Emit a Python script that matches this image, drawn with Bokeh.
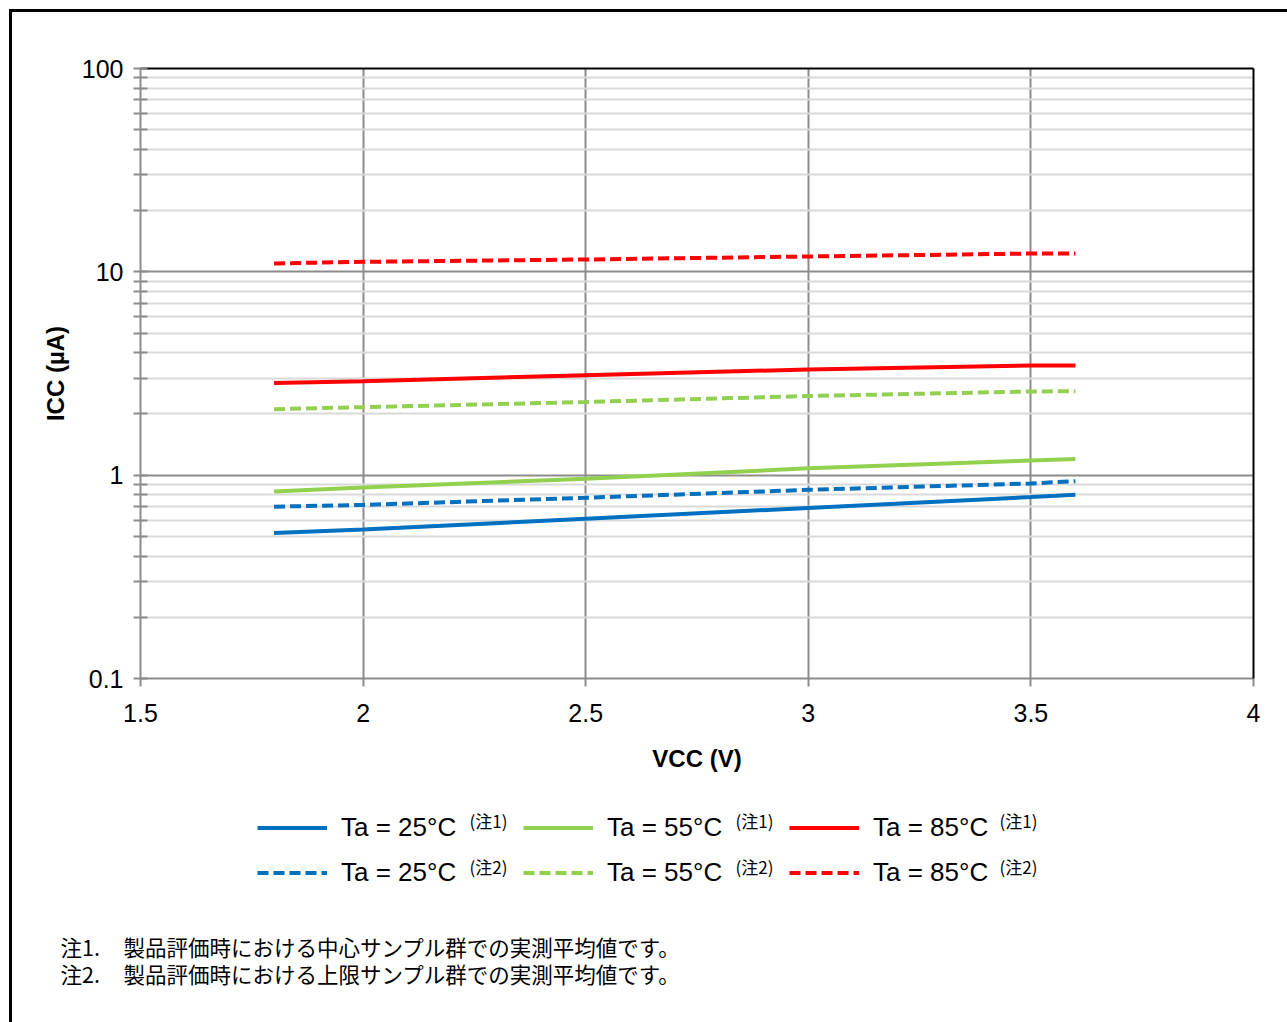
from bokeh.plotting import figure
from bokeh.layouts import column
from bokeh.models import (Range1d, FixedTicker, NumeralTickFormatter, LinearAxis, LogAxis,
                          Legend, LegendItem, Label)
from bokeh.embed import file_html
from bokeh.resources import INLINE

# ---- data ----
vcc = [1.8, 2.0, 2.5, 3.0, 3.5, 3.6]
icc_25_typ = [0.52, 0.54, 0.61, 0.69, 0.78, 0.80]
icc_55_typ = [0.83, 0.87, 0.96, 1.08, 1.18, 1.20]
icc_85_typ = [2.84, 2.90, 3.10, 3.31, 3.46, 3.46]
icc_25_max = [0.70, 0.714, 0.774, 0.847, 0.91, 0.934]
icc_55_max = [2.11, 2.16, 2.29, 2.45, 2.58, 2.59]
icc_85_max = [11.0, 11.2, 11.5, 11.9, 12.3, 12.3]

x_ticks = [1.5, 2.0, 2.5, 3.0, 3.5, 4.0]
y_ticks = [0.1, 1, 10, 100]
y_minor = [0.2, 0.3, 0.4, 0.5, 0.6, 0.7, 0.8, 0.9,
           2, 3, 4, 5, 6, 7, 8, 9,
           20, 30, 40, 50, 60, 70, 80, 90]

legend_labels = ["Ta = 25°C", "Ta = 55°C", "Ta = 85°C",
                 "Ta = 25°C", "Ta = 55°C", "Ta = 85°C"]
legend_sups = ["(注1)", "(注1)", "(注1)", "(注2)", "(注2)", "(注2)"]
notes = [("注1.", "製品評価時における中心サンプル群での実測平均値です。"),
         ("注2.", "製品評価時における上限サンプル群での実測平均値です。")]

BLUE, GREEN, RED = "#0070C0", "#92D050", "#FF0000"
GRID = "#8c8c8c"
MINOR = "#d9d9d9"
FONT = "Liberation Sans"
CJK = "Noto Sans CJK JP"
NAN = float("nan")

# ---------------- main chart ----------------
p = figure(frame_width=1113, frame_height=610,
           min_border_left=128, min_border_right=34, min_border_top=56, min_border_bottom=112,
           x_range=Range1d(1.5, 4.0), y_range=Range1d(0.1, 100), y_axis_type="log",
           output_backend="svg", toolbar_location=None)
p.outline_line_color = None
p.background_fill_color = "white"
p.border_fill_color = "white"

xa = p.xaxis[0]
xa.ticker = FixedTicker(ticks=x_ticks)
xa.formatter = NumeralTickFormatter(format="0.[0]")
xa.axis_label = "VCC (V)"
ya = p.yaxis[0]
ya.ticker = FixedTicker(ticks=y_ticks, minor_ticks=y_minor)
ya.formatter = NumeralTickFormatter(format="0.[0]")
ya.axis_label = "ICC (µA)"

for ax in (xa, ya):
    ax.axis_line_color = GRID
    ax.axis_line_width = 2
    ax.major_tick_line_color = GRID
    ax.major_tick_line_width = 2
    ax.minor_tick_line_color = GRID
    ax.minor_tick_line_width = 2
    ax.major_label_text_font = FONT
    ax.major_label_text_font_size = "25px"
    ax.major_label_text_color = "black"
    ax.axis_label_text_font = FONT
    ax.axis_label_text_font_size = "24px"
    ax.axis_label_text_font_style = "bold"
    ax.axis_label_text_color = "black"

xa.major_tick_in = 0
xa.major_tick_out = 8
xa.minor_tick_line_color = None
xa.major_label_standoff = 17
xa.axis_label_standoff = 20
ya.major_tick_in = 7
ya.major_tick_out = 7
ya.minor_tick_in = 7
ya.minor_tick_out = 7
ya.major_label_standoff = 10
ya.axis_label_standoff = 10

top = LinearAxis(ticker=FixedTicker(ticks=[]), axis_line_color="black", axis_line_width=2,
                 major_tick_line_color=None, minor_tick_line_color=None)
right = LogAxis(ticker=FixedTicker(ticks=[]), axis_line_color="black", axis_line_width=2,
                major_tick_line_color=None, minor_tick_line_color=None)
p.add_layout(top, "above")
p.add_layout(right, "right")

p.xgrid.ticker = FixedTicker(ticks=x_ticks)
p.xgrid.grid_line_color = GRID
p.xgrid.grid_line_width = 2
p.ygrid.ticker = FixedTicker(ticks=y_ticks, minor_ticks=y_minor)
p.ygrid.grid_line_color = GRID
p.ygrid.grid_line_width = 2
p.ygrid.minor_grid_line_color = MINOR
p.ygrid.minor_grid_line_width = 2

DASH = "11 5"
series = [(icc_25_typ, BLUE, "solid"), (icc_55_typ, GREEN, "solid"), (icc_85_typ, RED, "solid"),
          (icc_25_max, BLUE, DASH), (icc_55_max, GREEN, DASH), (icc_85_max, RED, DASH)]
for ys, col, dash in series:
    p.line(vcc, ys, line_color=col, line_width=4, line_dash=dash, line_cap="butt")

# ---------------- legend + footnotes panel ----------------
W2, H2 = 1275, 232
p2 = figure(width=W2, height=H2, min_border=0, x_range=Range1d(0, W2), y_range=Range1d(0, H2),
            x_axis_location=None, y_axis_location=None,
            output_backend="svg", toolbar_location=None)
p2.grid.visible = False
p2.outline_line_color = None
p2.background_fill_color = "white"
p2.border_fill_color = "white"

if "frame_align" in p2.properties():
    p.frame_align = False
    p2.frame_align = False

# legend proxies (no visible data; only carry the line style for the legend)
proxies = []
for ys, col, dash in series:
    proxies.append(p2.line([NAN], [NAN], line_color=col, line_width=4, line_dash=dash,
                           line_cap="butt"))

items = [LegendItem(label=lab, renderers=[r]) for lab, r in zip(legend_labels, proxies)]
legend = Legend(items=items, location=(245, 132), orientation="horizontal", ncols=3,
                glyph_width=70, glyph_height=35, label_height=35, label_width=172,
                label_standoff=14, spacing=10, padding=0, margin=0,
                label_text_font=FONT, label_text_font_size="26px", label_text_color="black",
                border_line_color=None, background_fill_alpha=0)
p2.add_layout(legend, "center")

sup_x = [457, 723, 987]
sup_y = [202, 156]
for i, s in enumerate(legend_sups):
    p2.add_layout(Label(x=sup_x[i % 3], y=sup_y[i // 3], x_units="screen", y_units="screen",
                        text=s, text_font=CJK, text_font_size="17px", text_baseline="middle",
                        text_color="black"))

for j, (head, body) in enumerate(notes):
    yy = 76 - 27 * j
    p2.add_layout(Label(x=48, y=yy, x_units="screen", y_units="screen", text=head,
                        text_font=CJK, text_font_size="21.5px", text_baseline="middle",
                        text_color="black"))
    p2.add_layout(Label(x=111, y=yy, x_units="screen", y_units="screen", text=body,
                        text_font=CJK, text_font_size="21.5px", text_baseline="middle",
                        text_color="black"))

layout = column(p, p2, spacing=0,
                styles={"margin-left": "9px", "margin-top": "9px",
                        "border-left": "3px solid black", "border-top": "3px solid black"})

open("out.html", "w").write(file_html(layout, INLINE))
